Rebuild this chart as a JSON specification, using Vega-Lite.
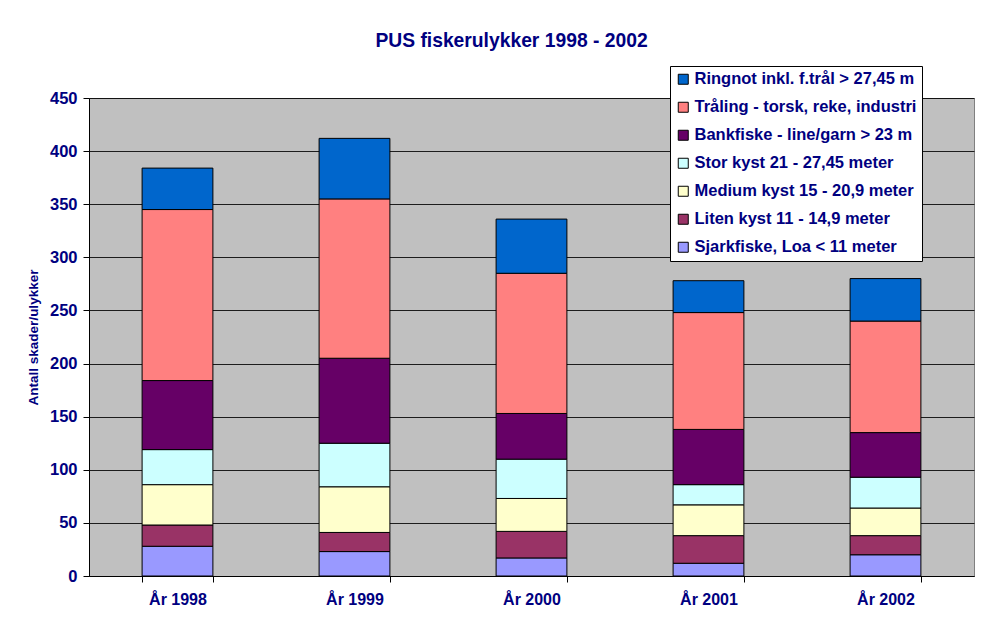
{
  "$schema": "https://vega.github.io/schema/vega-lite/v6.json",
  "width": 885,
  "height": 478,
  "autosize": {"type": "none"},
  "padding": {"left": 89, "top": 98, "right": 29, "bottom": 45},
  "background": "white",
  "title": {
    "text": "PUS fiskerulykker 1998 - 2002",
    "anchor": "middle",
    "frame": "group",
    "dx": -20,
    "dy": 51,
    "offset": 50,
    "baseline": "alphabetic",
    "font": "Liberation Sans",
    "fontSize": 19.3,
    "fontWeight": "bold",
    "color": "#000080"
  },
  "data": {
    "values": [
      {"year": "År 1998", "type": "Sjarkfiske, Loa < 11 meter", "k": 1, "n": 28},
      {"year": "År 1998", "type": "Liten kyst 11 - 14,9 meter", "k": 2, "n": 20},
      {"year": "År 1998", "type": "Medium kyst 15 - 20,9 meter", "k": 3, "n": 38},
      {"year": "År 1998", "type": "Stor kyst  21 - 27,45 meter", "k": 4, "n": 33},
      {"year": "År 1998", "type": "Bankfiske - line/garn > 23 m", "k": 5, "n": 65},
      {"year": "År 1998", "type": "Tråling - torsk, reke, industri", "k": 6, "n": 161},
      {"year": "År 1998", "type": "Ringnot inkl. f.trål > 27,45 m", "k": 7, "n": 39},
      {"year": "År 1999", "type": "Sjarkfiske, Loa < 11 meter", "k": 1, "n": 23},
      {"year": "År 1999", "type": "Liten kyst 11 - 14,9 meter", "k": 2, "n": 18},
      {"year": "År 1999", "type": "Medium kyst 15 - 20,9 meter", "k": 3, "n": 43},
      {"year": "År 1999", "type": "Stor kyst  21 - 27,45 meter", "k": 4, "n": 41},
      {"year": "År 1999", "type": "Bankfiske - line/garn > 23 m", "k": 5, "n": 80},
      {"year": "År 1999", "type": "Tråling - torsk, reke, industri", "k": 6, "n": 150},
      {"year": "År 1999", "type": "Ringnot inkl. f.trål > 27,45 m", "k": 7, "n": 57},
      {"year": "År 2000", "type": "Sjarkfiske, Loa < 11 meter", "k": 1, "n": 17},
      {"year": "År 2000", "type": "Liten kyst 11 - 14,9 meter", "k": 2, "n": 25},
      {"year": "År 2000", "type": "Medium kyst 15 - 20,9 meter", "k": 3, "n": 31},
      {"year": "År 2000", "type": "Stor kyst  21 - 27,45 meter", "k": 4, "n": 37},
      {"year": "År 2000", "type": "Bankfiske - line/garn > 23 m", "k": 5, "n": 43},
      {"year": "År 2000", "type": "Tråling - torsk, reke, industri", "k": 6, "n": 132},
      {"year": "År 2000", "type": "Ringnot inkl. f.trål > 27,45 m", "k": 7, "n": 51},
      {"year": "År 2001", "type": "Sjarkfiske, Loa < 11 meter", "k": 1, "n": 12},
      {"year": "År 2001", "type": "Liten kyst 11 - 14,9 meter", "k": 2, "n": 26},
      {"year": "År 2001", "type": "Medium kyst 15 - 20,9 meter", "k": 3, "n": 29},
      {"year": "År 2001", "type": "Stor kyst  21 - 27,45 meter", "k": 4, "n": 19},
      {"year": "År 2001", "type": "Bankfiske - line/garn > 23 m", "k": 5, "n": 52},
      {"year": "År 2001", "type": "Tråling - torsk, reke, industri", "k": 6, "n": 110},
      {"year": "År 2001", "type": "Ringnot inkl. f.trål > 27,45 m", "k": 7, "n": 30},
      {"year": "År 2002", "type": "Sjarkfiske, Loa < 11 meter", "k": 1, "n": 20},
      {"year": "År 2002", "type": "Liten kyst 11 - 14,9 meter", "k": 2, "n": 18},
      {"year": "År 2002", "type": "Medium kyst 15 - 20,9 meter", "k": 3, "n": 26},
      {"year": "År 2002", "type": "Stor kyst  21 - 27,45 meter", "k": 4, "n": 29},
      {"year": "År 2002", "type": "Bankfiske - line/garn > 23 m", "k": 5, "n": 42},
      {"year": "År 2002", "type": "Tråling - torsk, reke, industri", "k": 6, "n": 105},
      {"year": "År 2002", "type": "Ringnot inkl. f.trål > 27,45 m", "k": 7, "n": 40}
    ]
  },
  "mark": {"type": "bar", "stroke": "black", "strokeWidth": 1},
  "encoding": {
    "x": {
      "field": "year",
      "type": "nominal",
      "scale": {"paddingInner": 0.6, "paddingOuter": 0.3},
      "axis": {
        "title": null,
        "labelAngle": 0,
        "tickBand": "extent",
        "domainColor": "black",
        "tickColor": "black",
        "tickSize": 6,
        "labelPadding": 9,
        "labelFont": "Liberation Sans",
        "labelFontSize": 16,
        "labelFontWeight": "bold",
        "labelColor": "#000080",
        "grid": false
      }
    },
    "y": {
      "field": "n",
      "type": "quantitative",
      "stack": "zero",
      "scale": {"domain": [0, 450], "nice": false},
      "axis": {
        "title": "Antall skader/ulykker",
        "titleFont": "Liberation Sans",
        "titleFontSize": 13.5,
        "titleFontWeight": "bold",
        "titleColor": "#000080",
        "titlePadding": 9,
        "values": [0, 50, 100, 150, 200, 250, 300, 350, 400, 450],
        "domainColor": "black",
        "tickColor": "black",
        "tickSize": 6,
        "labelPadding": 6,
        "labelFont": "Liberation Sans",
        "labelFontSize": 16.5,
        "labelFontWeight": "bold",
        "labelColor": "#000080",
        "grid": true,
        "gridColor": "black",
        "gridWidth": 1,
        "gridOpacity": 0.85
      }
    },
    "color": {
      "field": "type",
      "type": "nominal",
      "scale": {
        "domain": [
          "Ringnot inkl. f.trål > 27,45 m",
          "Tråling - torsk, reke, industri",
          "Bankfiske - line/garn > 23 m",
          "Stor kyst  21 - 27,45 meter",
          "Medium kyst 15 - 20,9 meter",
          "Liten kyst 11 - 14,9 meter",
          "Sjarkfiske, Loa < 11 meter"
        ],
        "range": ["#0066CC", "#FF8080", "#660066", "#CCFFFF", "#FFFFCC", "#993366", "#9999FF"]
      },
      "legend": {
        "title": null,
        "orient": "none",
        "legendX": 581,
        "legendY": -32,
        "fillColor": "white",
        "strokeColor": "black",
        "padding": 5,
        "symbolType": "square",
        "symbolSize": 100,
        "symbolStrokeColor": "black",
        "symbolStrokeWidth": 1,
        "symbolOpacity": 1,
        "labelFont": "Liberation Sans",
        "labelFontSize": 16.5,
        "labelFontWeight": "bold",
        "labelColor": "#000080",
        "labelOffset": 3,
        "labelLimit": 400,
        "rowPadding": 11
      }
    },
    "order": {"field": "k", "type": "quantitative", "sort": "ascending"}
  },
  "config": {
    "view": {"fill": "#C0C0C0", "stroke": "#808080", "strokeWidth": 1}
  }
}
